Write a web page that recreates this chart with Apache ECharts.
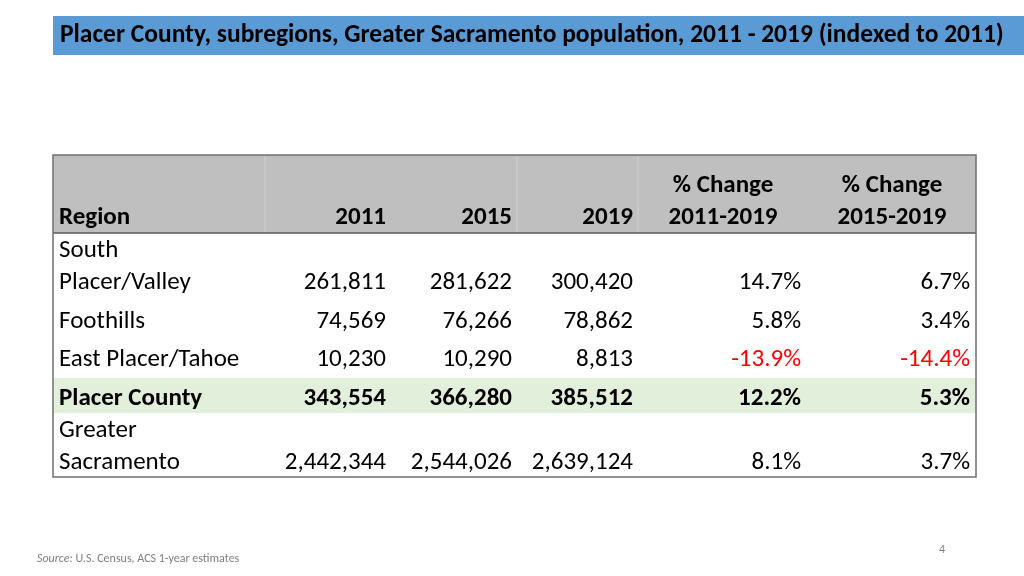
<!DOCTYPE html>
<html>
<head>
<meta charset="utf-8">
<script src="https://cdn.jsdelivr.net/npm/echarts@6/dist/echarts.min.js"></script>
<style>
html,body{margin:0;padding:0;background:#fff;}
#chart{width:1024px;height:576px;}
</style>
</head>
<body>
<div id="chart"></div>
<script>
// ---- data ----
var headers = ['Region', '2011', '2015', '2019', '% Change\n2011-2019', '% Change\n2015-2019'];
var regions = ['South\nPlacer/Valley', 'Foothills', 'East Placer/Tahoe', 'Placer County', 'Greater\nSacramento'];
var pop2011 = [261811, 74569, 10230, 343554, 2442344];
var pop2015 = [281622, 76266, 10290, 366280, 2544026];
var pop2019 = [300420, 78862, 8813, 385512, 2639124];
var chg1119 = [14.7, 5.8, -13.9, 12.2, 8.1];
var chg1519 = [6.7, 3.4, -14.4, 5.3, 3.7];
var highlightRegion = 'Placer County';
var titleText = 'Placer County, subregions, Greater Sacramento population, 2011 - 2019 (indexed to 2011)';
var sourceText = 'U.S. Census, ACS 1-year estimates';
var pageNumber = '4';

// ---- layout (table units, px within grid) ----
var colEdges = [0, 212, 337, 464, 585, 753, 923];
var rowEdges = [0, 78, 145, 185, 223, 258, 322];
var headerSeparators = [212, 464, 585];
var FONT = 'Carlito, Lato, "Open Sans", sans-serif';
var FS = 25;
var LH = 32;
// center of last text line in each body row
var rowTextY = [128, 167, 205, 244, 308];

function fmtNum(v) { return v.toLocaleString('en-US'); }
function fmtPct(v) { return v.toFixed(1) + '%'; }

var chart = echarts.init(document.getElementById('chart'));

function txt(api, x, y, s, opts) {
  var p = api.coord([x, y]);
  return {
    type: 'text',
    x: p[0], y: p[1],
    style: Object.assign({
      text: s,
      fill: '#000',
      font: (opts && opts.bold ? 'bold ' : '') + FS + 'px ' + FONT,
      lineHeight: LH,
      align: 'right',
      verticalAlign: 'middle'
    }, opts && opts.style)
  };
}

function rectBetween(api, x0, y0, x1, y1, style) {
  var a = api.coord([x0, y0]);
  var b = api.coord([x1, y1]);
  return { type: 'rect', shape: { x: a[0], y: a[1], width: b[0] - a[0], height: b[1] - a[1] }, style: style };
}

function lineBetween(api, x0, y0, x1, y1, style) {
  var a = api.coord([x0, y0]);
  var b = api.coord([x1, y1]);
  return { type: 'line', shape: { x1: a[0], y1: a[1], x2: b[0], y2: b[1] }, style: style };
}

var option = {
  animation: false,
  backgroundColor: '#ffffff',
  title: {
    text: titleText,
    left: 60,
    top: 23,
    padding: 0,
    textStyle: { fontFamily: FONT, fontWeight: 'bold', fontSize: 25.5, color: '#000' }
  },
  graphic: [
    { type: 'rect', left: 53, top: 16, z: -1, shape: { width: 971, height: 39 }, style: { fill: '#5B9BD5' } },
    {
      type: 'text', left: 37, top: 553,
      style: {
        text: '{i|Source:} ' + sourceText,
        rich: { i: { fontStyle: 'italic', fontSize: 12, fontFamily: FONT, fill: '#7f7f7f' } },
        fontSize: 12, fontFamily: FONT, fill: '#7f7f7f'
      }
    },
    { type: 'text', left: 939, top: 544, style: { text: pageNumber, fontSize: 12, fontFamily: FONT, fill: '#7f7f7f' } }
  ],
  grid: { left: 53, top: 155, width: 923, height: 322 },
  xAxis: { type: 'value', min: 0, max: 923, show: false },
  yAxis: { type: 'value', min: 0, max: 322, inverse: true, show: false },
  series: [
    {
      type: 'custom',
      z: 2,
      silent: true,
      data: regions.map(function (r, i) { return [i]; }),
      renderItem: function (params, api) {
        var i = params.dataIndex;
        var bold = regions[i] === highlightRegion;
        var children = [];
        if (bold) {
          children.push(rectBetween(api, colEdges[0], rowEdges[i + 1], colEdges[6], rowEdges[i + 2], { fill: '#E2EFDA' }));
        }
        var y = rowTextY[i];
        children.push(txt(api, colEdges[0] + 6, y + LH / 2, regions[i], { bold: bold, style: { align: 'left', verticalAlign: 'bottom' } }));
        var vals = [fmtNum(pop2011[i]), fmtNum(pop2015[i]), fmtNum(pop2019[i]), fmtPct(chg1119[i]), fmtPct(chg1519[i])];
        var raw = [pop2011[i], pop2015[i], pop2019[i], chg1119[i], chg1519[i]];
        var pads = [4, 5, 5, 5, 6];
        for (var c = 0; c < 5; c++) {
          var color = (c >= 3 && raw[c] < 0) ? '#FF0000' : '#000';
          children.push(txt(api, colEdges[c + 2] - pads[c], y, vals[c], { bold: bold, style: { fill: color } }));
        }
        return { type: 'group', children: children };
      }
    },
    {
      type: 'custom',
      z: 3,
      silent: true,
      data: [[0]],
      renderItem: function (params, api) {
        var children = [];
        children.push(rectBetween(api, colEdges[0], rowEdges[0], colEdges[6], rowEdges[1], { fill: '#BFBFBF' }));
        headerSeparators.forEach(function (x) {
          children.push(lineBetween(api, x, rowEdges[0], x, rowEdges[1], { stroke: '#D0D0D0', lineWidth: 1 }));
        });
        var hy = 63;
        children.push(txt(api, colEdges[0] + 6, hy, headers[0], { bold: true, style: { align: 'left' } }));
        var pads = [4, 5, 5];
        for (var c = 1; c <= 3; c++) {
          children.push(txt(api, colEdges[c + 1] - pads[c - 1], hy, headers[c], { bold: true }));
        }
        for (var c2 = 4; c2 <= 5; c2++) {
          var cx = (colEdges[c2] + colEdges[c2 + 1]) / 2 + (c2 === 4 ? 1 : 1);
          children.push(txt(api, cx, hy + LH / 2, headers[c2], { bold: true, style: { align: 'center', verticalAlign: 'bottom' } }));
        }
        children.push(lineBetween(api, colEdges[0], rowEdges[1], colEdges[6], rowEdges[1], { stroke: '#595959', lineWidth: 1.5 }));
        children.push(rectBetween(api, colEdges[0], rowEdges[0], colEdges[6], rowEdges[6], { fill: null, stroke: '#6f6f6f', lineWidth: 1.5 }));
        return { type: 'group', children: children };
      }
    }
  ]
};
chart.setOption(option);
</script>
</body>
</html>
